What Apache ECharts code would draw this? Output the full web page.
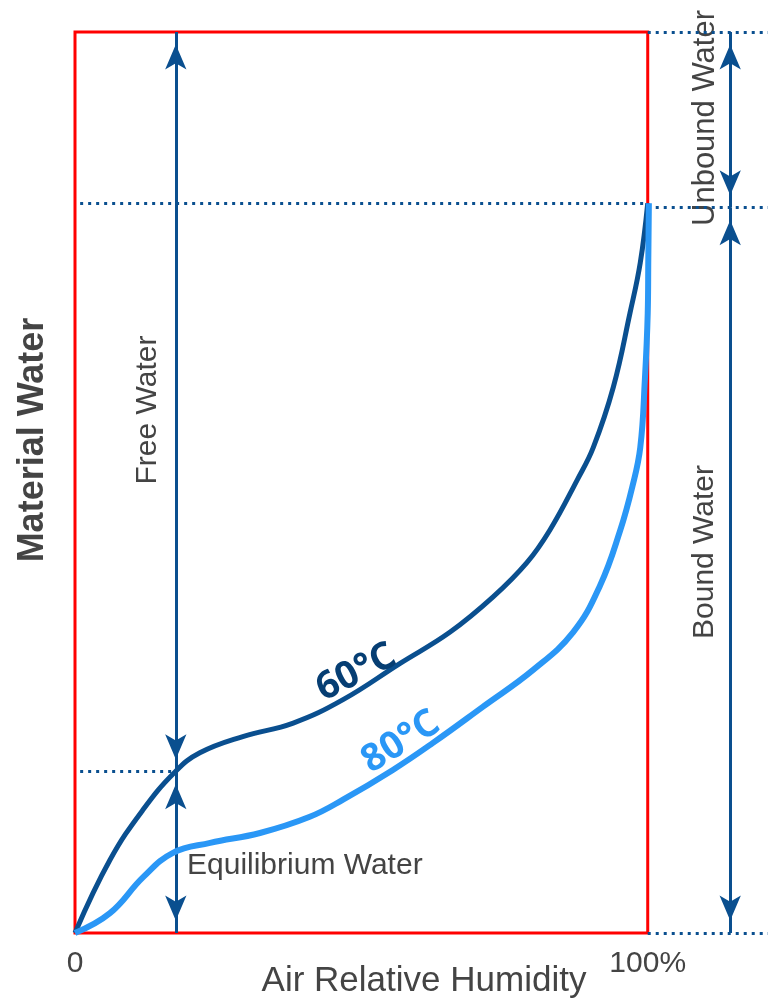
<!DOCTYPE html>
<html>
<head>
<meta charset="utf-8">
<script src="https://cdn.jsdelivr.net/npm/echarts@6/dist/echarts.min.js"></script>
<style>
html,body{margin:0;padding:0;background:#fff;overflow:hidden;}
#chart{width:768px;height:1003px;}
</style>
</head>
<body>
<div id="chart"></div>
<script>
// ---- data (x: air relative humidity %, y: material water, relative units 0..100) ----
const humidity60 = [0, 6.1, 11.9, 17.5, 21.8, 29.3, 38.1, 46.8, 56.7, 65.5, 73.0, 78.9, 82.9, 87.7, 90.5, 94.0, 96.9, 98.7, 100];
const water60    = [0, 8.1, 13.7, 17.9, 20.0, 21.8, 23.3, 25.9, 29.9, 33.4, 37.3, 41.1, 44.7, 50.3, 53.9, 60.6, 68.8, 74.4, 81.0];
const humidity80 = [0, 6.1, 11.9, 17.1, 23.6, 32.3, 41.0, 46.8, 55.5, 62.5, 71.2, 80.0, 87.0, 91.7, 95.2, 97.3, 98.7, 99.5, 100.0, 100.1, 100.2];
const water80    = [0, 2.2, 6.2, 8.9, 10.0, 11.1, 12.9, 14.8, 18.1, 21.1, 25.1, 29.2, 33.4, 38.6, 44.7, 49.5, 53.9, 61.4, 68.8, 74.7, 81.0];
const seriesNames = ['60°C', '80°C'];
const xTickValues = [0, 100];
const xTickLabels = ['0', '100%'];
const xAxisTitle = 'Air Relative Humidity';
const yAxisTitle = 'Material Water';
// annotation levels (same data units)
const totalWater = 100;
const boundLevelLeft = 81.0;
const boundLevelRight = 80.5;
const equilibriumX = 17.6;
const equilibriumY = 17.9;
const rightArrowX = 114.4;
const rightEdgeX = 121;
const label60At = [49.1, 28.9];
const label80At = [56.9, 21.2];

const DARK = '#0a4f8f';
const LIGHT = '#2a97f6';
const TEXT = '#444444';
const FONT = 'Liberation Sans, Arial, sans-serif';

const toPairs = (xs, ys) => xs.map((x, i) => [x, ys[i]]);

const dotted = { color: DARK, width: 3, type: [3, 5], cap: 'butt' };
const arrowLine = { color: DARK, width: 3, type: 'solid' };

function seg(a, b, style, arrows) {
  const item = [{ coord: a }, { coord: b }];
  item[0].lineStyle = style;
  item[0].symbol = arrows ? 'arrow' : 'none';
  item[1].symbol = arrows ? 'arrow' : 'none';
  return item;
}

const chart = echarts.init(document.getElementById('chart'), null, { renderer: 'canvas', width: 768, height: 1003 });

const option = {
  animation: false,
  backgroundColor: '#ffffff',
  grid: { left: 75, right: 0, top: 32, bottom: 70, containLabel: false, outerBoundsMode: 'none' },
  xAxis: {
    type: 'value', min: 0, max: rightEdgeX, interval: 100,
    axisLine: { show: false }, axisTick: { show: false }, splitLine: { show: false },
    axisLabel: {
      color: TEXT, fontSize: 30, fontFamily: FONT, margin: 16,
      formatter: v => { const i = xTickValues.indexOf(v); return i >= 0 ? xTickLabels[i] : ''; }
    }
  },
  yAxis: {
    type: 'value', min: 0, max: totalWater, interval: 100,
    axisLine: { show: false }, axisTick: { show: false }, splitLine: { show: false },
    axisLabel: { show: false }
  },
  series: [
    {
      name: 'frame', type: 'line', data: [], z: 1, silent: true, clip: false,
      markArea: {
        silent: true, label: { show: false },
        itemStyle: { color: 'rgba(0,0,0,0)', borderColor: '#ff0000', borderWidth: 3 },
        data: [[{ coord: [0, 0] }, { coord: [100, totalWater] }]]
      },
      markLine: {
        silent: true, animation: false,
        label: { show: false },
        symbolSize: [16, 25],
        symbolOffset: [[0, 12.5], [0, 12.5]],
        lineStyle: arrowLine,
        data: [
          seg([0.9, boundLevelLeft], [100, boundLevelLeft], dotted, false),
          seg([100, boundLevelRight], [rightEdgeX, boundLevelRight], dotted, false),
          seg([100, totalWater], [rightEdgeX, totalWater], dotted, false),
          seg([100, 0], [rightEdgeX, 0], dotted, false),
          seg([0.9, equilibriumY], [equilibriumX, equilibriumY], dotted, false),
          seg([equilibriumX, totalWater], [equilibriumX, equilibriumY], arrowLine, true),
          seg([equilibriumX, equilibriumY], [equilibriumX, 0], arrowLine, true),
          seg([rightArrowX, totalWater], [rightArrowX, boundLevelRight], arrowLine, true),
          seg([rightArrowX, boundLevelRight], [rightArrowX, 0], arrowLine, true)
        ]
      }
    },
    {
      name: seriesNames[0], type: 'line', smooth: 0.42, showSymbol: false, z: 4, clip: false,
      data: toPairs(humidity60, water60),
      lineStyle: { color: DARK, width: 5 }, itemStyle: { color: DARK },
      markPoint: {
        silent: true, symbol: 'circle', symbolSize: 0,
        label: { show: true, position: 'inside', formatter: seriesNames[0], rotate: 27,
          color: '#063e73', fontSize: 38, fontWeight: 'bold', fontFamily: 'Open Sans, Noto Sans, sans-serif' },
        data: [{ coord: label60At }]
      }
    },
    {
      name: seriesNames[1], type: 'line', smooth: 0.42, showSymbol: false, z: 5, clip: false,
      data: toPairs(humidity80, water80),
      lineStyle: { color: LIGHT, width: 6 }, itemStyle: { color: LIGHT },
      markPoint: {
        silent: true, symbol: 'circle', symbolSize: 0,
        label: { show: true, position: 'inside', formatter: seriesNames[1], rotate: 32,
          color: LIGHT, fontSize: 38, fontWeight: 'bold', fontFamily: 'Open Sans, Noto Sans, sans-serif' },
        data: [{ coord: label80At }]
      }
    }
  ],
  graphic: [
    { type: 'text', x: 424, y: 981, silent: true,
      style: { text: xAxisTitle, fill: TEXT, fontSize: 35, fontFamily: FONT, align: 'center', verticalAlign: 'middle' } },
    { type: 'text', x: 33, y: 440, rotation: Math.PI / 2, silent: true,
      style: { text: yAxisTitle, fill: TEXT, fontSize: 36, fontWeight: 'bold', fontFamily: FONT, align: 'center', verticalAlign: 'middle' } },
    { type: 'text', x: 148, y: 410, rotation: Math.PI / 2, silent: true,
      style: { text: 'Free Water', fill: TEXT, fontSize: 30, fontFamily: FONT, align: 'center', verticalAlign: 'middle' } },
    { type: 'text', x: 705, y: 552, rotation: Math.PI / 2, silent: true,
      style: { text: 'Bound Water', fill: TEXT, fontSize: 30, fontFamily: FONT, align: 'center', verticalAlign: 'middle' } },
    { type: 'text', x: 705, y: 118, rotation: Math.PI / 2, silent: true,
      style: { text: 'Unbound Water', fill: TEXT, fontSize: 31, fontFamily: FONT, align: 'center', verticalAlign: 'middle' } },
    { type: 'text', x: 187, y: 866, silent: true,
      style: { text: 'Equilibrium Water', fill: TEXT, fontSize: 30, fontFamily: FONT, align: 'left', verticalAlign: 'middle' } }
  ]
};
chart.setOption(option);
</script>
</body>
</html>
